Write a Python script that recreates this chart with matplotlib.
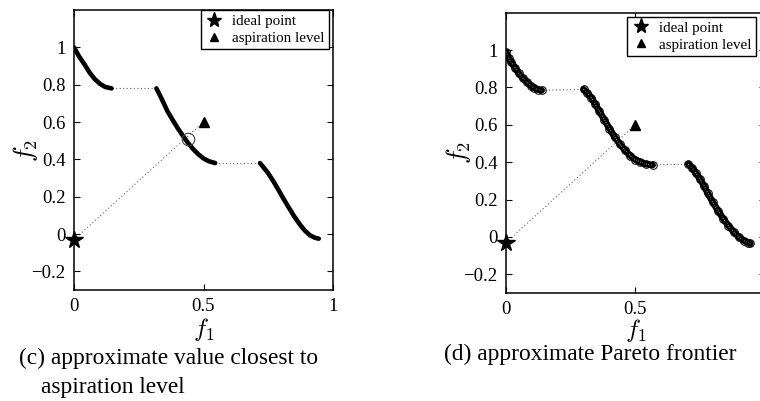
import matplotlib
matplotlib.use("Agg")
import matplotlib.pyplot as plt
from matplotlib.ticker import FuncFormatter

plt.rcParams['font.family'] = ['Liberation Serif', 'DejaVu Serif']
plt.rcParams['mathtext.fontset'] = 'cm'

# ---- data ----
ideal_point = (0.0, -0.03)
aspiration = (0.5, 0.6)
closest_c = (0.44, 0.51)

# panel (c) frontier segments
c_seg1_x = [0.0, 0.02, 0.04, 0.06, 0.08, 0.10, 0.12, 0.145]
c_seg1_y = [1.0, 0.95, 0.91, 0.865, 0.83, 0.805, 0.788, 0.78]
c_seg2_x = [0.318, 0.33, 0.345, 0.36, 0.38, 0.40, 0.42, 0.44, 0.46, 0.48, 0.50, 0.52, 0.545]
c_seg2_y = [0.78, 0.748, 0.705, 0.66, 0.613, 0.568, 0.527, 0.488, 0.455, 0.427, 0.405, 0.39, 0.38]
c_seg3_x = [0.718, 0.73, 0.75, 0.77, 0.79, 0.81, 0.83, 0.85, 0.87, 0.89, 0.91, 0.93, 0.945]
c_seg3_y = [0.38, 0.36, 0.325, 0.282, 0.235, 0.186, 0.14, 0.095, 0.055, 0.02, -0.006, -0.02, -0.025]

# panel (d) approximate Pareto frontier points
d_seg1_x = [0.0, 0.01, 0.02, 0.035, 0.05, 0.065, 0.08, 0.095, 0.11, 0.125, 0.138]
d_seg1_y = [0.99, 0.96, 0.935, 0.905, 0.875, 0.85, 0.83, 0.81, 0.797, 0.788, 0.785]
d_seg2_x = [0.30, 0.315, 0.33, 0.345, 0.36, 0.38, 0.40, 0.42, 0.44, 0.46, 0.48, 0.50, 0.52, 0.54, 0.567]
d_seg2_y = [0.79, 0.77, 0.745, 0.712, 0.675, 0.628, 0.58, 0.535, 0.497, 0.465, 0.435, 0.413, 0.40, 0.39, 0.385]
d_seg3_x = [0.705, 0.72, 0.735, 0.75, 0.765, 0.78, 0.80, 0.82, 0.84, 0.86, 0.88, 0.90, 0.92, 0.935, 0.945]
d_seg3_y = [0.39, 0.37, 0.34, 0.31, 0.275, 0.235, 0.185, 0.14, 0.098, 0.06, 0.028, 0.0, -0.02, -0.03, -0.035]

x_ticks = [0, 0.5, 1]
y_ticks = [-0.2, 0, 0.2, 0.4, 0.6, 0.8, 1]

fig = plt.figure(figsize=(7.6, 4.01), dpi=100)
W, H = 760.0, 401.0

def fmt_val(v, p=None):
    return ('%g' % v).replace('-', '\u2212')

def make_ax(l, r, t, b, ylab_right_px, xlab_top_px, hide_last_x=False):
    ax = fig.add_axes([l / W, 1 - b / H, (r - l) / W, (b - t) / H])
    ax.set_xlim(0, 1)
    ax.set_ylim(-0.3, 1.2)
    ax.set_xticks(x_ticks)
    ax.set_yticks(y_ticks)
    if hide_last_x:
        ax.set_xticklabels([fmt_val(v) if v < 1 else '' for v in x_ticks])
    else:
        ax.xaxis.set_major_formatter(FuncFormatter(fmt_val))
    ax.yaxis.set_major_formatter(FuncFormatter(fmt_val))
    ax.tick_params(direction='in', top=True, right=True, length=4, width=0.8,
                   labelsize=13.5, pad=6, colors='black')
    for s in ax.spines.values():
        s.set_linewidth(1.1)
    ax.set_xlabel('$f_1$', fontsize=18)
    ax.set_ylabel('$f_2$', fontsize=19)
    ax.yaxis.set_label_coords((ylab_right_px - l) / (r - l), 0.5)
    ax.xaxis.set_label_coords(0.5, (b - xlab_top_px) / (b - t))
    return ax

def dotted(ax, xs, ys):
    ax.plot(xs, ys, linestyle=(0, (1, 2.2)), color='#666666', lw=0.8, zorder=1)

def legend(ax, anchor):
    h1, = ax.plot([], [], linestyle='none', marker='*', color='black', ms=11)
    h2, = ax.plot([], [], linestyle='none', marker='^', color='black', ms=6)
    lg = ax.legend([h1, h2], ['ideal point', 'aspiration level'], loc='upper right',
                   bbox_to_anchor=anchor, borderaxespad=0, fontsize=10.8,
                   fancybox=False, framealpha=1, edgecolor='black',
                   handlelength=1.2, handletextpad=0.6, borderpad=0.3,
                   labelspacing=0.22)
    lg.get_frame().set_linewidth(1.0)

# ---- panel (c) ----
ax1 = make_ax(74, 333, 10, 290, ylab_right_px=40, xlab_top_px=316)
dotted(ax1, [c_seg1_x[-1], c_seg2_x[0]], [c_seg1_y[-1], c_seg2_y[0]])
dotted(ax1, [c_seg2_x[-1], c_seg3_x[0]], [c_seg2_y[-1], c_seg3_y[0]])
dotted(ax1, [ideal_point[0], aspiration[0]], [ideal_point[1], aspiration[1]])
for xs, ys in [(c_seg1_x, c_seg1_y), (c_seg2_x, c_seg2_y), (c_seg3_x, c_seg3_y)]:
    ax1.plot(xs, ys, color='black', lw=3.3, solid_capstyle='round',
             solid_joinstyle='round', zorder=3)
ax1.plot(*closest_c, marker='o', mfc='none', mec='#444444', mew=0.8, ms=9, zorder=4)
ax1.plot(*ideal_point, marker='*', color='black', ms=13, clip_on=False, zorder=5)
ax1.plot(*aspiration, marker='^', color='black', ms=7, zorder=5)
legend(ax1, (1 - 4 / 259, 1.0))

# ---- panel (d) ----
ax2 = make_ax(506, 764.6, 12.7, 293, ylab_right_px=473, xlab_top_px=317,
              hide_last_x=True)
dotted(ax2, [d_seg1_x[-1], d_seg2_x[0]], [d_seg1_y[-1], d_seg2_y[0]])
dotted(ax2, [d_seg2_x[-1], d_seg3_x[0]], [d_seg2_y[-1], d_seg3_y[0]])
dotted(ax2, [ideal_point[0], aspiration[0]], [ideal_point[1], aspiration[1]])
for xs, ys in [(d_seg1_x, d_seg1_y), (d_seg2_x, d_seg2_y), (d_seg3_x, d_seg3_y)]:
    ax2.plot(xs, ys, color='black', lw=4.8, solid_capstyle='round',
             solid_joinstyle='round', zorder=3)
    ax2.plot(xs, ys, linestyle=(0, (0.5, 1.5)), color='white', lw=0.8, zorder=4)
    ax2.plot(xs, ys, linestyle='none', marker='o', mfc='none', mec='black',
             mew=0.7, ms=5.5, zorder=5)
ax2.plot(*ideal_point, marker='*', color='black', ms=13, clip_on=False, zorder=6)
ax2.plot(*aspiration, marker='^', color='black', ms=7, zorder=6)
legend(ax2, (1 - 8.6 / 258.6, 1 - 4 / 280.3))

# ---- captions ----
fig.text(19 / W, 1 - 358 / H, '(c) approximate value closest to', fontsize=16.8,
         ha='left', va='center')
fig.text(41 / W, 1 - 387 / H, 'aspiration level', fontsize=16.8, ha='left', va='center')
fig.text(590.5 / W, 1 - 354 / H, '(d) approximate Pareto frontier', fontsize=16.8,
         ha='center', va='center')

fig.savefig('out.png', dpi=100)
